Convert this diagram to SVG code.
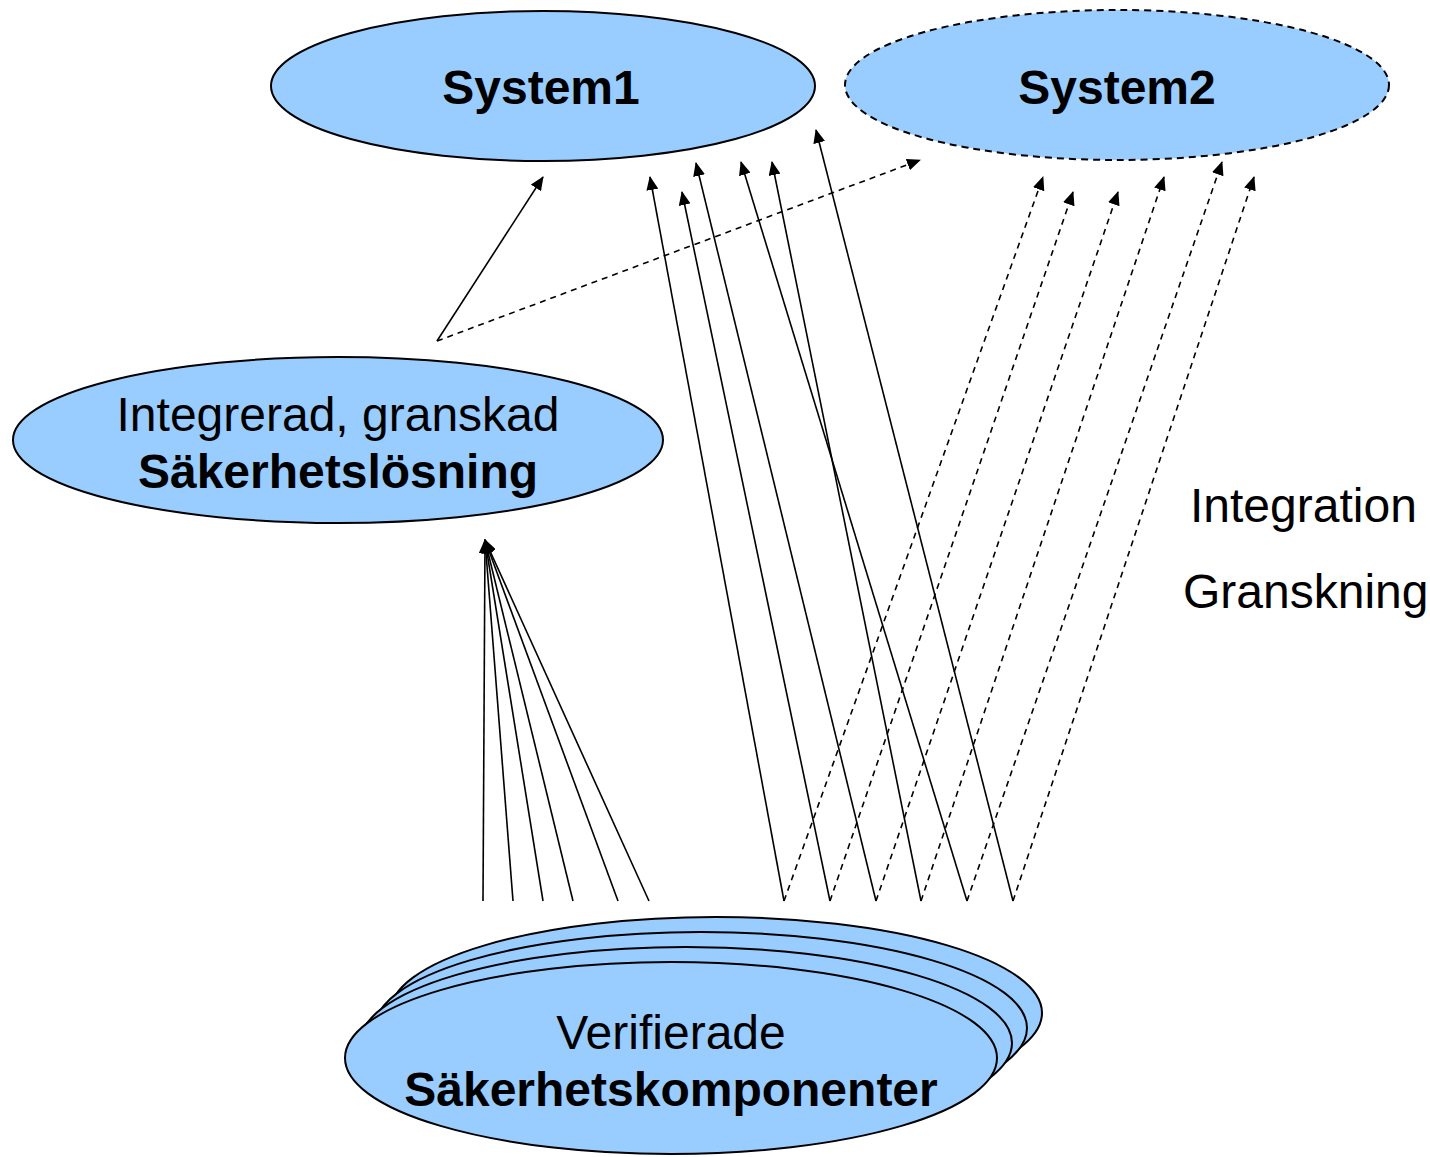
<svg xmlns="http://www.w3.org/2000/svg" width="1430" height="1157" viewBox="0 0 1430 1157">
  <style>
    .node { fill: #99ccff; stroke: #000; stroke-width: 2; }
    .dashed { stroke-dasharray: 7 5; }
    .lbl { font-family: "Liberation Sans", Arial, sans-serif; font-size: 48px; fill: #000; text-anchor: middle; }
    .b { font-weight: bold; }
    .side { font-family: "Liberation Sans", Arial, sans-serif; font-size: 48px; fill: #000; }
    .edge { stroke: #000; stroke-width: 1.6; fill: none; marker-end: url(#head); }
    .edge.d { stroke-dasharray: 6 5; }
  </style>
  <defs>
    <marker id="head" markerUnits="userSpaceOnUse" markerWidth="14" markerHeight="12" refX="13" refY="6" orient="auto">
      <path d="M0,0 L14,6 L0,12 z" fill="#000"/>
    </marker>
  </defs>
  <rect width="1430" height="1157" fill="#fff"/>

  <g id="system1">
    <ellipse class="node" cx="543" cy="86" rx="272" ry="75"/>
    <text class="lbl b" x="541" y="104">System1</text>
  </g>

  <g id="system2">
    <ellipse class="node dashed" cx="1117" cy="85" rx="272" ry="75"/>
    <text class="lbl b" x="1117" y="104">System2</text>
  </g>

  <g id="integrerad">
    <ellipse class="node" cx="338" cy="440" rx="325" ry="83"/>
    <text class="lbl" x="338" y="431">Integrerad, granskad</text>
    <text class="lbl b" x="338" y="488">Säkerhetslösning</text>
  </g>

  <g id="komponenter">
    <ellipse class="node" cx="716" cy="1013" rx="326" ry="96"/>
    <ellipse class="node" cx="701" cy="1028" rx="326" ry="96"/>
    <ellipse class="node" cx="686" cy="1043" rx="326" ry="96"/>
    <ellipse class="node" cx="671" cy="1058" rx="326" ry="96"/>
    <text class="lbl" x="671" y="1049">Verifierade</text>
    <text class="lbl b" x="671" y="1106">Säkerhetskomponenter</text>
  </g>

  <g id="labels">
    <text class="side" x="1190" y="522">Integration</text>
    <text class="side" x="1183" y="608">Granskning</text>
  </g>

  <g id="connectors">
    <!-- solution up to the systems -->
    <line class="edge" x1="437" y1="341" x2="543" y2="177"/>
    <line class="edge d" x1="437" y1="341" x2="920" y2="160"/>
    <!-- components into the solution -->
    <line class="edge" x1="483" y1="901" x2="485" y2="540"/>
    <line class="edge" x1="513" y1="901" x2="485" y2="540"/>
    <line class="edge" x1="543" y1="901" x2="485" y2="540"/>
    <line class="edge" x1="573" y1="901" x2="485" y2="540"/>
    <line class="edge" x1="618" y1="901" x2="485" y2="540"/>
    <line class="edge" x1="649" y1="901" x2="485" y2="540"/>
    <!-- components directly to System1 -->
    <line class="edge" x1="784" y1="901" x2="650" y2="177"/>
    <line class="edge" x1="830" y1="901" x2="682" y2="192"/>
    <line class="edge" x1="876" y1="901" x2="696" y2="163"/>
    <line class="edge" x1="921" y1="901" x2="772" y2="162"/>
    <line class="edge" x1="967" y1="901" x2="741" y2="162"/>
    <line class="edge" x1="1013" y1="901" x2="816" y2="130"/>
    <!-- components to System2 -->
    <line class="edge d" x1="784" y1="901" x2="1043" y2="177"/>
    <line class="edge d" x1="830" y1="901" x2="1073" y2="192"/>
    <line class="edge d" x1="876" y1="901" x2="1118" y2="192"/>
    <line class="edge d" x1="921" y1="901" x2="1164" y2="177"/>
    <line class="edge d" x1="967" y1="901" x2="1222" y2="162"/>
    <line class="edge d" x1="1013" y1="901" x2="1254" y2="177"/>
  </g>
</svg>
